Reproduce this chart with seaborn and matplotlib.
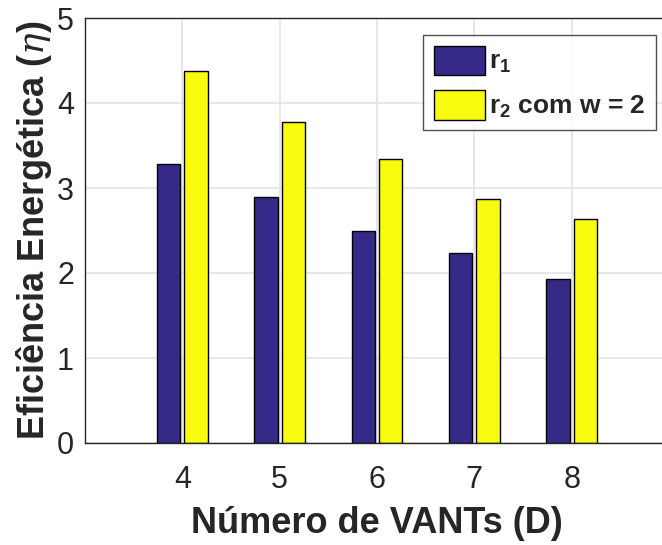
import matplotlib
matplotlib.use("Agg")
import matplotlib.pyplot as plt
import seaborn as sns
import pandas as pd

vants = [4, 5, 6, 7, 8]
r1 = [3.28, 2.89, 2.49, 2.24, 1.93]
r2 = [4.38, 3.78, 3.34, 2.87, 2.63]
series_names = [r'$\mathbf{r_1}$', r'$\mathbf{r_2}$ com w = 2']
colors = ['#352a87', '#f9fb0e']

sns.set_theme(style="white")
plt.rcParams['font.family'] = ['Liberation Sans', 'DejaVu Sans']
plt.rcParams['mathtext.fontset'] = 'custom'
plt.rcParams['mathtext.rm'] = 'Liberation Sans'
plt.rcParams['mathtext.bf'] = 'Liberation Sans:bold'
plt.rcParams['mathtext.it'] = 'DejaVu Serif:italic'

df = pd.DataFrame({
    'D': vants * 2,
    'eta': r1 + r2,
    'serie': [series_names[0]] * len(vants) + [series_names[1]] * len(vants),
})

fig = plt.figure(figsize=(6.62, 5.45), dpi=100)
ax = fig.add_axes([85/662, 102/545, 584/662, 425/545])

sns.barplot(data=df, x='D', y='eta', hue='serie', palette=colors,
            native_scale=True, width=0.56, gap=0.14, edgecolor='black',
            linewidth=1.0, ax=ax, errorbar=None, saturation=1)

ax.set_xlim(3, 9)
ax.set_ylim(0, 5)
ax.set_xticks(vants)
ax.set_yticks([0, 1, 2, 3, 4, 5])
ax.grid(True, color='#e3e3e3', linewidth=1.2)
ax.set_axisbelow(True)
for s in ax.spines.values():
    s.set_color('#262626')
    s.set_linewidth(1.0)
ax.tick_params(axis='both', direction='in', length=4, width=1, colors='#262626',
               labelsize=22, labelcolor='#262626')
ax.tick_params(axis='x', pad=16)
ax.tick_params(axis='y', pad=8)

ax.set_xlabel('Número de VANTs (D)', fontsize=26, fontweight='bold', color='#262626', labelpad=8)
ax.set_ylabel(r'Eficiência Energética ($\eta$)', fontsize=26, fontweight='bold', color='#262626', labelpad=2)

leg = ax.legend(loc='upper left', fontsize=19, frameon=True, fancybox=False, edgecolor='#262626',
                handlelength=1.95, handleheight=1.35, handletextpad=0.15, borderpad=0.4,
                borderaxespad=0, labelspacing=0.55, prop={'weight': 'bold', 'size': 19})
leg.set_bbox_to_anchor((423/662, 1 - 35/545), transform=fig.transFigure)
leg.get_frame().set_linewidth(1.0)
leg.set_title(None)

fig.savefig('out.png', dpi=100)
